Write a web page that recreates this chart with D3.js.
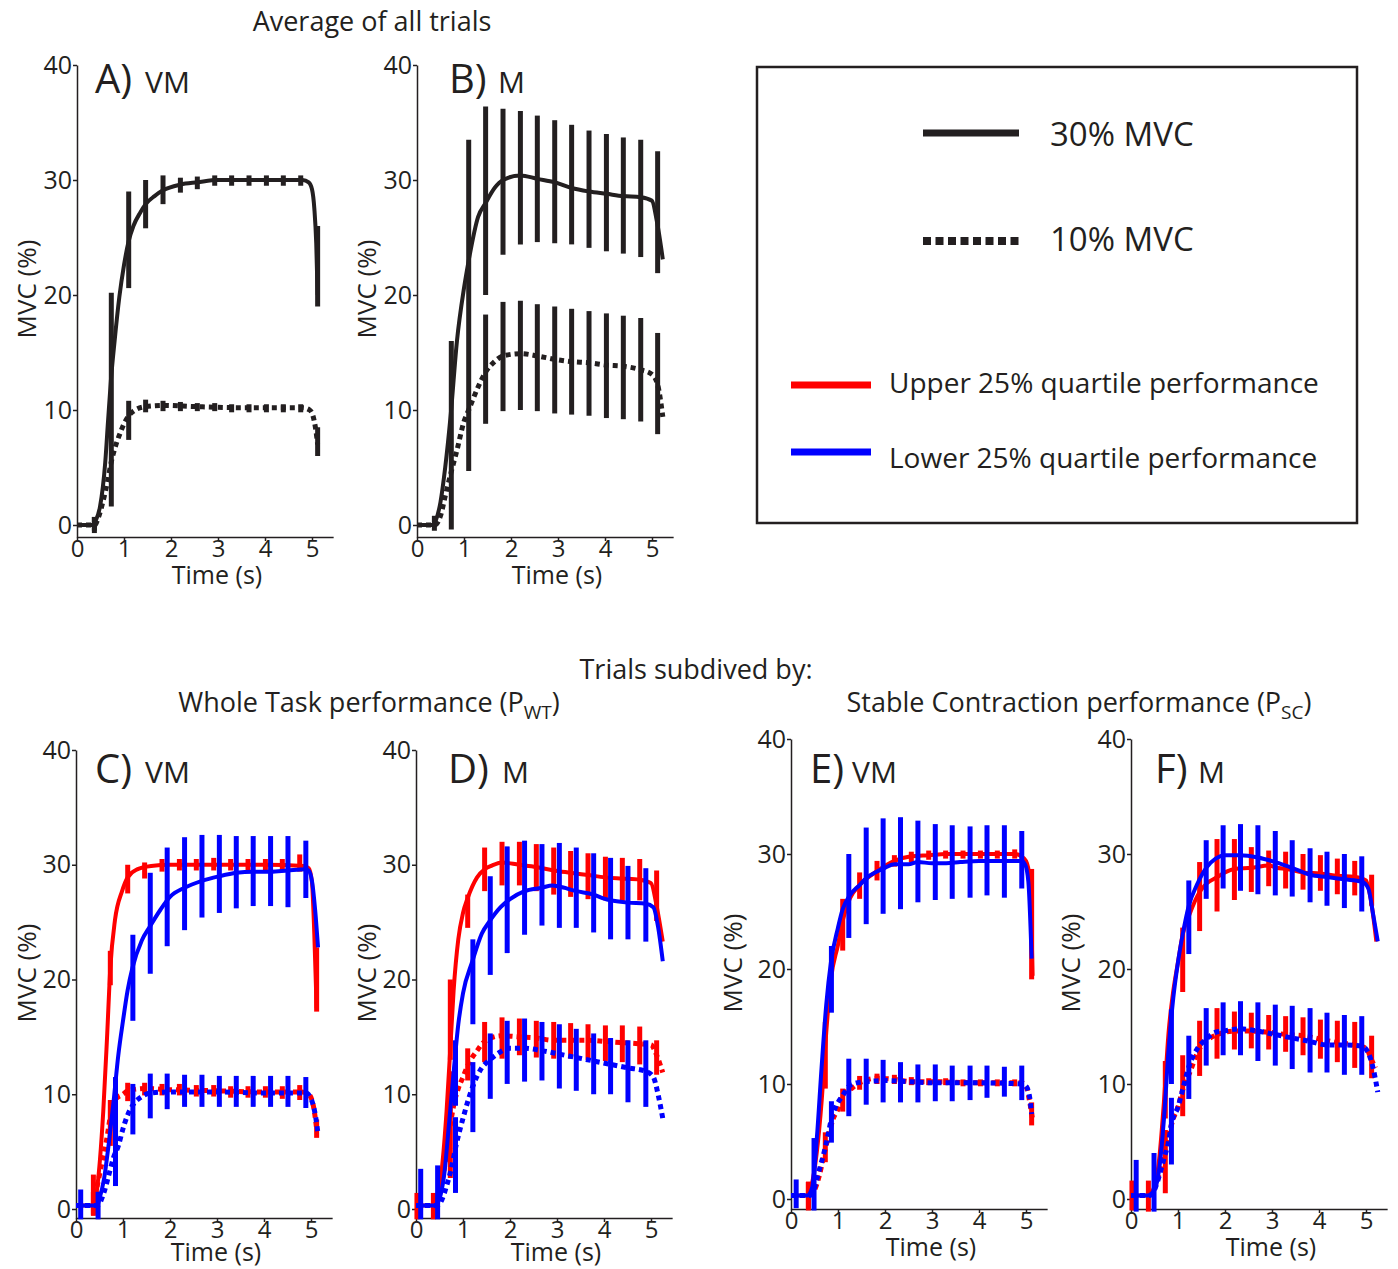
<!DOCTYPE html>
<html>
<head>
<meta charset="utf-8">
<script src="https://cdn.jsdelivr.net/npm/d3@7"></script>
<style>
  html, body { margin: 0; padding: 0; background: #fff; }
  svg { display: block; font-family: "Open Sans", sans-serif; }
</style>
</head>
<body>
<svg id="chart" width="1398" height="1269"></svg>
<script>
// ---- data: mean curves as [time, %MVC], error bars as [time, low, high] ----
const xTicks = [0, 1, 2, 3, 4, 5];
const yTicks = [0, 10, 20, 30, 40];

// A) VM, all trials
const aSolidLine = [[0,0],[0.32,0],[0.4,0.4],[0.49,1.6],[0.6,5.4],[0.66,9],[0.72,12.5],[0.8,16],[0.9,19.8],[1.0,22.6],[1.1,24.7],[1.2,26],[1.35,27.2],[1.46,27.9],[1.65,28.6],[1.83,29.1],[2.2,29.6],[2.56,29.8],[3.0,30],[4.0,30],[4.8,30],[4.93,29.8],[5.0,29.2],[5.05,27.5],[5.09,24.5],[5.12,20]];
const aSolidBars = [[0.37,-0.5,0.7],[0.73,1.6,20.2],[1.1,20.6,29],[1.46,25.8,30],[1.83,27.9,30.4],[2.2,28.9,30.2],[2.56,29.2,30.3],[2.93,29.5,30.4],[3.29,29.5,30.4],[3.66,29.5,30.4],[4.03,29.5,30.4],[4.39,29.5,30.4],[4.76,29.5,30.4],[5.12,19,26]];
const aDotLine = [[0,0],[0.38,0],[0.45,0.6],[0.55,2],[0.65,3.8],[0.73,5.5],[0.8,6.6],[0.9,7.8],[1.0,8.8],[1.1,9.5],[1.2,9.9],[1.46,10.3],[1.83,10.4],[2.5,10.3],[3.5,10.2],[4.5,10.2],[4.8,10.2],[4.95,10],[5.02,9.5],[5.08,8.3],[5.12,7]];
const aDotBars = [[0.37,-0.7,0.7],[1.1,7.4,10.8],[1.46,9.8,10.9],[1.83,9.9,10.8],[2.2,9.9,10.7],[2.56,9.9,10.6],[2.93,9.9,10.6],[3.29,9.8,10.5],[3.66,9.8,10.5],[4.03,9.8,10.5],[4.39,9.8,10.5],[4.76,9.8,10.5],[5.12,6,8.5]];

// B) M, all trials
const bSolidLine = [[0,0],[0.32,0],[0.4,0.4],[0.5,2],[0.6,5],[0.72,9.7],[0.85,16],[1.0,20.6],[1.1,23],[1.3,26.8],[1.46,28],[1.65,29.3],[1.83,30],[2.2,30.4],[2.56,30.1],[2.93,29.8],[3.29,29.3],[3.66,29],[4.03,28.8],[4.39,28.6],[4.76,28.5],[5.0,28.2],[5.1,26.5],[5.23,23.1]];
const bSolidBars = [[0.37,-0.5,0.8],[0.73,-0.4,16],[1.1,4.7,33.5],[1.46,20,36.4],[1.83,23.5,36.2],[2.2,24.4,36],[2.56,24.6,35.6],[2.93,24.5,35.2],[3.29,24.4,34.8],[3.66,24.1,34.3],[4.03,23.8,34],[4.39,23.6,33.7],[4.76,23.3,33.5],[5.12,21.9,32.5]];
const bDotLine = [[0,0],[0.38,0],[0.5,0.8],[0.6,2.5],[0.72,4.5],[0.85,6.5],[1.0,9],[1.1,10],[1.3,12],[1.46,13.3],[1.65,14.2],[1.83,14.7],[2.2,14.9],[2.56,14.7],[2.93,14.4],[3.29,14.2],[3.66,14.1],[4.03,13.9],[4.39,13.8],[4.76,13.5],[5.0,13.1],[5.12,12.2],[5.23,9.4]];
const bDotBars = [[1.46,8.8,18.3],[1.83,9.9,19.4],[2.2,10,19.5],[2.56,9.9,19.2],[2.93,9.7,19],[3.29,9.6,18.8],[3.66,9.5,18.6],[4.03,9.3,18.4],[4.39,9.2,18.2],[4.76,9,18],[5.12,7.9,16.7]];

// C) VM, whole task performance
const cRedSolidLine = [[0,0.3],[0.35,0.3],[0.42,1],[0.51,4.3],[0.58,8.5],[0.66,14.9],[0.73,21],[0.83,25.2],[0.98,27.7],[1.1,28.9],[1.3,29.6],[1.6,29.9],[2.0,30],[3.0,30],[4.0,30],[4.85,29.9],[4.95,29.7],[5.02,28.5],[5.07,24],[5.12,17.5]];
const cRedSolidBars = [[0.37,-0.5,1.5],[0.73,19.5,22.5],[1.1,27.5,30],[1.46,28.8,30.2],[1.83,29.4,30.5],[2.2,29.5,30.5],[2.56,29.5,30.5],[2.93,29.5,30.6],[3.29,29.5,30.5],[3.66,29.5,30.5],[4.03,29.5,30.5],[4.39,29.5,30.5],[4.76,29.4,30.9],[5.12,17.2,22.8]];
const cRedDotLine = [[0,0.3],[0.35,0.3],[0.45,2],[0.55,4],[0.65,6],[0.75,8.5],[0.85,9.6],[1.0,10],[1.1,10.3],[1.46,10.5],[2.0,10.4],[3.0,10.3],[4.0,10.2],[4.8,10.2],[4.95,10],[5.05,9],[5.12,7]];
const cRedDotBars = [[0.37,-0.6,3],[0.73,5.5,9.5],[1.1,9.4,11],[1.46,9.9,11],[1.83,9.9,10.9],[2.2,9.9,10.9],[2.56,9.8,10.8],[2.93,9.8,10.8],[3.29,9.7,10.7],[3.66,9.7,10.7],[4.03,9.7,10.7],[4.39,9.6,10.7],[4.76,9.5,10.8],[5.12,6.2,7.8]];
const cBlueSolidLine = [[0,0.3],[0.45,0.3],[0.5,0.9],[0.6,2.7],[0.7,5.8],[0.8,9.4],[0.9,13.4],[1.0,16.4],[1.1,19.1],[1.2,21],[1.4,23.4],[1.57,24.6],[1.8,26.1],[2.0,27.2],[2.31,28],[2.68,28.6],[3.05,29],[3.41,29.3],[3.77,29.4],[4.14,29.4],[4.5,29.5],[4.89,29.6],[4.95,29.5],[5.02,28.6],[5.1,25.5],[5.15,22.8]];
const cBlueSolidBars = [[0.1,-0.9,1.7],[0.47,-0.9,1.5],[0.84,4,11.5],[1.21,16.4,23.9],[1.58,20.5,29.3],[1.94,22.9,31.5],[2.31,24.3,32.4],[2.68,25.4,32.6],[3.05,25.8,32.6],[3.41,26.2,32.5],[3.77,26.4,32.5],[4.14,26.4,32.5],[4.51,26.3,32.5],[4.89,27.1,32.1]];
const cBlueDotLine = [[0,0.3],[0.45,0.3],[0.6,1.5],[0.7,3],[0.8,4.5],[0.9,5.5],[1.0,7],[1.1,8.2],[1.2,9],[1.4,9.8],[1.57,10.1],[2.0,10.2],[3.0,10.2],[4.0,10.1],[4.89,10.1],[5.0,9.6],[5.1,8],[5.15,6.5]];
const cBlueDotBars = [[0.84,2,7],[1.21,6.5,10.9],[1.58,7.9,11.8],[1.94,8.7,11.8],[2.31,8.9,11.7],[2.68,8.9,11.7],[3.05,8.9,11.6],[3.41,8.9,11.6],[3.77,8.9,11.6],[4.14,8.9,11.6],[4.51,8.9,11.6],[4.89,8.8,11.5]];

// D) M, whole task performance
const dRedSolidLine = [[0,0.3],[0.35,0.3],[0.45,0.9],[0.55,3.5],[0.65,8.5],[0.73,14],[0.8,19],[0.9,23.5],[1.0,25.8],[1.1,27.1],[1.3,28.9],[1.46,29.6],[1.6,29.9],[1.82,30.2],[2.19,30],[2.56,29.8],[2.93,29.5],[3.29,29.3],[3.66,29.1],[4.03,28.9],[4.39,28.8],[4.76,28.7],[5.0,28.4],[5.12,26.4],[5.25,23.3]];
const dRedSolidBars = [[0.02,-0.9,1.4],[0.37,-0.9,1.4],[0.73,13,20],[1.1,24.5,27.4],[1.46,27.7,31.5],[1.83,28.2,32],[2.2,28.2,32],[2.56,27.7,31.8],[2.93,27.4,31.5],[3.29,27.2,31.2],[3.66,27,31],[4.03,26.9,30.7],[4.39,26.7,30.6],[4.76,26.9,30.5],[5.12,25.1,29.5]];
const dRedDotLine = [[0,0.3],[0.35,0.3],[0.5,1.5],[0.6,3.5],[0.7,6.5],[0.8,9],[0.9,10.5],[1.0,11.5],[1.1,12.5],[1.3,13.8],[1.46,14.6],[1.82,15.1],[2.19,15],[2.56,14.9],[2.93,14.7],[3.29,14.7],[3.66,14.7],[4.03,14.6],[4.39,14.5],[4.76,14.4],[5.0,14.3],[5.12,13.4],[5.25,11.9]];
const dRedDotBars = [[0.73,2.7,12],[1.1,11.2,14],[1.46,12.8,16.3],[1.83,13.1,16.7],[2.2,13.4,16.6],[2.56,13.2,16.4],[2.93,13.1,16.3],[3.29,13.1,16.2],[3.66,13,16.1],[4.03,12.9,16],[4.39,12.8,16],[4.76,12.6,15.9],[5.12,11.7,14.7]];
const dBlueSolidLine = [[0,0.3],[0.4,0.3],[0.5,0.9],[0.6,3],[0.7,7.3],[0.8,11.9],[0.9,16.1],[1.0,18.8],[1.2,21.6],[1.4,24],[1.57,25.1],[1.8,26.3],[2.0,27],[2.31,27.7],[2.68,28],[2.9,28.2],[3.05,28.1],[3.41,27.7],[3.78,27.4],[4.0,27.05],[4.14,26.9],[4.51,26.7],[4.89,26.6],[5.05,26.3],[5.15,24.6],[5.25,21.6]];
const dBlueSolidBars = [[0.1,-0.9,3.5],[0.46,-0.9,3.8],[0.84,9,14.7],[1.21,16.1,23.5],[1.58,20.4,29],[1.94,22.3,31.6],[2.31,23.9,32.1],[2.68,24.7,31.8],[3.05,24.5,31.9],[3.41,24.5,31.5],[3.78,24.1,31],[4.14,23.5,30.6],[4.51,23.5,29.9],[4.89,23.3,29.7]];
const dBlueDotLine = [[0,0.3],[0.45,0.3],[0.55,0.8],[0.65,2],[0.75,3.5],[0.85,5.5],[1.0,7.9],[1.2,10.6],[1.4,12.3],[1.57,13],[1.8,13.7],[2.0,14],[2.31,14],[2.68,13.8],[3.05,13.5],[3.41,13.2],[3.78,12.9],[4.14,12.6],[4.51,12.3],[4.89,12],[5.05,11.5],[5.15,10],[5.25,7.9]];
const dBlueDotBars = [[0.84,1.4,8],[1.21,6.7,12.8],[1.58,9.6,15.3],[1.94,10.9,16.4],[2.31,11.1,16.6],[2.68,11.2,16.3],[3.05,10.5,16.1],[3.41,10.3,15.7],[3.78,10,15.3],[4.14,10,14.9],[4.51,9.3,14.7],[4.89,8.9,14.7]];

// E) VM, stable contraction performance
const eRedSolidLine = [[0,0.3],[0.35,0.3],[0.45,1.4],[0.55,4.1],[0.65,8.4],[0.75,14.5],[0.85,19.1],[1.0,22.1],[1.1,24.2],[1.25,26.1],[1.46,27.3],[1.83,28.5],[2.2,29.4],[2.56,29.8],[2.93,29.9],[3.3,30],[4.0,30],[4.76,30],[4.9,29.8],[5.0,29.4],[5.08,27.9],[5.14,19.4]];
const eRedSolidBars = [[0.37,-1,1.5],[0.73,9.6,15.4],[1.1,21.6,26.1],[1.46,26.1,28.4],[1.83,27.7,29.4],[2.2,28.9,29.9],[2.56,29.3,30.2],[2.93,29.5,30.3],[3.29,29.6,30.3],[3.66,29.6,30.3],[4.03,29.6,30.3],[4.39,29.6,30.3],[4.76,29.6,30.4],[5.12,19.1,28.7]];
const eRedDotLine = [[0,0.3],[0.35,0.3],[0.5,0.8],[0.6,2],[0.7,3.8],[0.8,5.5],[0.9,7],[1.0,7.8],[1.1,9.1],[1.25,9.5],[1.46,10.1],[1.84,10.5],[2.2,10.4],[2.56,10.2],[3.0,10.2],[4.0,10.1],[4.9,10.1],[5.0,9.8],[5.08,8.4],[5.14,6.9]];
const eRedDotBars = [[0.37,-0.8,1.5],[0.73,3.2,5.8],[1.1,7.6,9.6],[1.46,9.5,10.7],[1.83,10,10.9],[2.2,10,10.8],[2.56,9.9,10.6],[2.93,9.9,10.5],[3.29,9.9,10.5],[3.66,9.8,10.4],[4.03,9.8,10.4],[4.39,9.8,10.4],[4.76,9.8,10.4],[5.12,6.4,8.4]];
const eBlueSolidLine = [[0,0.3],[0.35,0.3],[0.45,1],[0.55,5.3],[0.65,11.4],[0.75,16.9],[0.85,20.6],[1.0,23.6],[1.1,25.2],[1.25,26.4],[1.46,27.3],[1.6,27.9],[1.84,28.5],[2.0,28.8],[2.2,29.1],[2.5,29.1],[2.7,29.3],[3.0,29.2],[3.3,29.2],[3.6,29.3],[4.0,29.4],[4.5,29.4],[4.9,29.4],[4.98,29.1],[5.05,27.6],[5.12,20.9]];
const eBlueSolidBars = [[0.11,-0.8,1.7],[0.49,-1,5.3],[0.86,16.2,22],[1.23,22.7,30],[1.6,23.9,32.3],[1.96,24.8,33.1],[2.33,25.2,33.2],[2.7,25.8,32.9],[3.07,26,32.6],[3.43,26.1,32.5],[3.81,26.2,32.4],[4.17,26.4,32.5],[4.54,26.2,32.5],[4.91,27,32]];
const eBlueDotLine = [[0,0.3],[0.4,0.3],[0.5,1],[0.6,2.5],[0.7,4],[0.8,5.8],[0.86,7],[0.95,8],[1.1,9],[1.23,9.8],[1.4,10.1],[1.6,10.2],[2.0,10.3],[2.5,10.2],[3.0,10.1],[4.0,10.1],[4.91,10],[5.0,9.8],[5.08,8.8],[5.12,7.4]];
const eBlueDotBars = [[0.86,4.9,8.5],[1.23,7.2,12.2],[1.6,8.2,12.2],[1.96,8.4,12.1],[2.33,8.4,11.9],[2.7,8.4,11.7],[3.07,8.5,11.7],[3.43,8.5,11.6],[3.81,8.6,11.6],[4.17,8.8,11.6],[4.54,8.9,11.5],[4.91,8.6,11.6]];

// F) M, stable contraction performance
const fRedSolidLine = [[0,0.3],[0.35,0.3],[0.5,1.1],[0.6,3.5],[0.7,8.4],[0.8,14.5],[0.9,18.1],[1.0,20.6],[1.1,23],[1.25,24.8],[1.46,26.7],[1.6,27.4],[1.84,28],[2.0,28.4],[2.2,28.7],[2.56,28.8],[2.93,29],[3.1,28.8],[3.3,28.7],[3.66,28.4],[4.03,28.3],[4.4,28.1],[4.76,28],[5.0,27.7],[5.1,26.1],[5.22,22.4]];
const fRedSolidBars = [[0.02,-1,1.6],[0.37,-1.1,1.6],[0.73,7,12],[1.1,18,23.6],[1.46,23.3,29.3],[1.83,25,31.3],[2.2,26,31.3],[2.56,26.7,30.6],[2.93,27.2,30.3],[3.29,27,30.2],[3.66,26.9,30],[4.03,26.8,29.9],[4.39,26.5,29.6],[4.76,26.4,29.4],[5.12,25.5,28.2]];
const fRedDotLine = [[0,0.3],[0.35,0.3],[0.5,1],[0.6,2.2],[0.7,4],[0.8,5.5],[0.9,7],[1.0,8],[1.1,9.5],[1.25,11],[1.46,13.1],[1.84,14.3],[2.2,14.6],[2.56,14.6],[2.93,14.5],[3.3,14.3],[3.66,14.2],[4.03,13.9],[4.4,13.6],[4.76,13.4],[5.0,13.1],[5.13,12],[5.2,11.4]];
const fRedDotBars = [[0.73,0.5,6],[1.1,7.2,12.5],[1.46,10.7,15.5],[1.83,12.2,16.6],[2.2,13,16.3],[2.56,13.1,16.2],[2.93,13,16],[3.29,12.8,15.9],[3.66,12.5,15.8],[4.03,12.2,15.6],[4.39,11.9,15.5],[4.76,11.4,15.4],[5.12,10.5,14.2]];
const fBlueSolidLine = [[0,0.3],[0.35,0.3],[0.5,0.8],[0.6,2.6],[0.7,6.9],[0.8,13],[0.9,17.5],[1.0,20.6],[1.1,23],[1.23,25.5],[1.4,27.3],[1.6,28.8],[1.8,29.6],[2.0,29.9],[2.33,29.9],[2.7,29.7],[3.07,29.3],[3.43,28.8],[3.81,28.2],[4.17,28],[4.54,27.8],[4.91,27.6],[5.05,27],[5.15,24.8],[5.25,22.4]];
const fBlueSolidBars = [[0.11,-1.1,3.4],[0.49,-1.1,4],[0.86,10,16.5],[1.23,21.3,27.7],[1.6,26.1,31.2],[1.96,27,32.5],[2.33,26.8,32.6],[2.7,26.5,32.5],[3.07,26.4,32],[3.43,26.3,31.2],[3.81,25.8,30.5],[4.17,25.5,30.2],[4.54,25.3,30],[4.91,25,29.8]];
const fBlueDotLine = [[0,0.3],[0.4,0.3],[0.5,0.8],[0.6,2],[0.7,3.5],[0.8,5],[0.86,6.5],[1.0,8],[1.1,9.5],[1.23,11.5],[1.4,13],[1.6,13.9],[1.8,14.5],[1.96,14.6],[2.33,14.8],[2.7,14.6],[3.07,14.3],[3.43,14],[3.81,13.7],[4.17,13.4],[4.54,13.4],[4.91,13.3],[5.05,12.7],[5.15,11.4],[5.25,9.3]];
const fBlueDotBars = [[0.86,3,8.8],[1.23,8.7,14.2],[1.6,11.6,16.6],[1.96,12.5,17.1],[2.33,12.5,17.2],[2.7,12,17.1],[3.07,11.6,16.9],[3.43,11.3,16.8],[3.81,11,16.6],[4.17,11,16.2],[4.54,10.8,16],[4.91,10.8,15.9]];

// ---- drawing ----
const ink = '#231f20';
const black = '#231f20', red = '#ff0000', blue = '#0000ff';
const svg = d3.select('#chart');

const mk = (line, bars, color, dotted) => ({ line, bars, color, dotted });

const panels = [
  { letter: 'A)', muscle: 'VM', x0: 77, y0: 525, yTop: 65, axisY: 537, letterDx: 18, muscleDx: 68, base: 93, mvcDx: -51, timeDy: 47,
    series: [mk(aSolidLine, aSolidBars, black, false), mk(aDotLine, aDotBars, black, true)] },
  { letter: 'B)', muscle: 'M', x0: 417, y0: 525, yTop: 65, axisY: 537, letterDx: 32, muscleDx: 81, base: 93, mvcDx: -51, timeDy: 47,
    series: [mk(bSolidLine, bSolidBars, black, false), mk(bDotLine, bDotBars, black, true)] },
  { letter: 'C)', muscle: 'VM', x0: 76, y0: 1209, yTop: 750, axisY: 1218, letterDx: 19, muscleDx: 69, base: 783, mvcDx: -50, timeDy: 43,
    series: [mk(cRedSolidLine, cRedSolidBars, red, false), mk(cRedDotLine, cRedDotBars, red, true),
             mk(cBlueSolidLine, cBlueSolidBars, blue, false), mk(cBlueDotLine, cBlueDotBars, blue, true)] },
  { letter: 'D)', muscle: 'M', x0: 416, y0: 1209, yTop: 750, axisY: 1218, letterDx: 32, muscleDx: 86, base: 783, mvcDx: -50, timeDy: 43,
    series: [mk(dRedSolidLine, dRedSolidBars, red, false), mk(dRedDotLine, dRedDotBars, red, true),
             mk(dBlueSolidLine, dBlueSolidBars, blue, false), mk(dBlueDotLine, dBlueDotBars, blue, true)] },
  { letter: 'E)', muscle: 'VM', x0: 791, y0: 1199, yTop: 739, axisY: 1209, letterDx: 19, muscleDx: 61, base: 783, mvcDx: -59, timeDy: 47,
    series: [mk(eRedSolidLine, eRedSolidBars, red, false), mk(eRedDotLine, eRedDotBars, red, true),
             mk(eBlueSolidLine, eBlueSolidBars, blue, false), mk(eBlueDotLine, eBlueDotBars, blue, true)] },
  { letter: 'F)', muscle: 'M', x0: 1131, y0: 1199, yTop: 739, axisY: 1209, letterDx: 24, muscleDx: 67, base: 783, mvcDx: -61, timeDy: 47,
    series: [mk(fRedSolidLine, fRedSolidBars, red, false), mk(fRedDotLine, fRedDotBars, red, true),
             mk(fBlueSolidLine, fBlueSolidBars, blue, false), mk(fBlueDotLine, fBlueDotBars, blue, true)] }
];

const pxPerSec = 47;
const xMax = 5.45;

panels.forEach(p => {
  const g = svg.append('g');

  const x = d3.scaleLinear().domain([0, xMax]).range([p.x0, p.x0 + xMax * pxPerSec]);
  const y = d3.scaleLinear().domain([0, 40]).range([p.y0, p.yTop]);
  const yMin = y.invert(p.axisY);
  y.domain([yMin, 40]).range([p.axisY, p.yTop]);

  const xAxis = g.append('g')
    .attr('transform', `translate(0,${p.axisY})`)
    .call(d3.axisBottom(x).tickValues(xTicks).tickFormat(d3.format('d'))
      .tickSize(4).tickSizeOuter(0).tickPadding(0));
  const yAxis = g.append('g')
    .attr('transform', `translate(${p.x0},0)`)
    .call(d3.axisLeft(y).tickValues(yTicks).tickFormat(d3.format('d'))
      .tickSize(4).tickSizeOuter(0).tickPadding(1));

  [xAxis, yAxis].forEach(ax => {
    ax.attr('font-family', null).attr('font-size', null);
    ax.select('.domain').attr('stroke', ink).attr('stroke-width', 1.5);
    ax.selectAll('.tick line').attr('stroke', ink).attr('stroke-width', 1.5);
    ax.selectAll('.tick text').attr('fill', ink).style('font-size', '25px');
  });
  xAxis.selectAll('.tick text').attr('dy', '0.68em').style('font-size', '24px');

  const line = d3.line()
    .x(d => x(d[0]))
    .y(d => y(d[1]))
    .curve(d3.curveMonotoneX);

  p.series.forEach(s => {
    g.append('path')
      .datum(s.line)
      .attr('d', line)
      .attr('fill', 'none')
      .attr('stroke', s.color)
      .attr('stroke-width', s.dotted ? 5 : 4)
      .attr('stroke-dasharray', s.dotted ? '5,4' : null);

    g.append('g').selectAll('line')
      .data(s.bars)
      .join('line')
      .attr('x1', d => x(d[0]))
      .attr('x2', d => x(d[0]))
      .attr('y1', d => y(d[1]))
      .attr('y2', d => y(d[2]))
      .attr('stroke', s.color)
      .attr('stroke-width', 5);
  });

  g.append('text')
    .attr('x', p.x0 + p.letterDx)
    .attr('y', p.base)
    .attr('fill', ink)
    .style('font-size', '40px')
    .text(p.letter);
  g.append('text')
    .attr('x', p.x0 + p.muscleDx)
    .attr('y', p.base)
    .attr('fill', ink)
    .style('font-size', '30px')
    .text(p.muscle);

  g.append('text')
    .attr('transform', `translate(${p.x0 + p.mvcDx},${p.y0 - 236}) rotate(-90)`)
    .attr('text-anchor', 'middle')
    .attr('dominant-baseline', 'central')
    .attr('fill', ink)
    .style('font-size', '26px')
    .text('MVC (%)');

  g.append('text')
    .attr('x', p.x0 + 140)
    .attr('y', p.axisY + p.timeDy)
    .attr('text-anchor', 'middle')
    .attr('fill', ink)
    .style('font-size', '25px')
    .text('Time (s)');
});

// titles
const title = (x, y, txt, sub) => {
  const t = svg.append('text')
    .attr('x', x).attr('y', y)
    .attr('text-anchor', 'middle')
    .attr('fill', ink)
    .style('font-size', '27px');
  t.append('tspan').text(txt);
  if (sub) {
    t.append('tspan').attr('dy', 7).style('font-size', '19px').text(sub);
    t.append('tspan').attr('dy', -7).text(')');
  }
};
title(372, 31, 'Average of all trials');
title(696, 679, 'Trials subdived by:');
title(369, 712, 'Whole Task performance (P', 'WT');
title(1079, 712, 'Stable Contraction performance (P', 'SC');

// legend
const legendItems = [
  { label: '30% MVC', color: black, dotted: false, x1: 923, x2: 1019, y: 133, tx: 1050, ty: 146, size: 33 },
  { label: '10% MVC', color: black, dotted: true, x1: 923, x2: 1019, y: 241, tx: 1050, ty: 251, size: 33 },
  { label: 'Upper 25% quartile performance', color: red, dotted: false, x1: 791, x2: 871, y: 385, tx: 889, ty: 393, size: 28 },
  { label: 'Lower 25% quartile performance', color: blue, dotted: false, x1: 791, x2: 871, y: 452, tx: 889, ty: 468, size: 28 }
];
const lg = svg.append('g');
lg.append('rect')
  .attr('x', 757).attr('y', 67).attr('width', 600).attr('height', 456)
  .attr('fill', 'none').attr('stroke', ink).attr('stroke-width', 2.5);
legendItems.forEach(d => {
  lg.append('line')
    .attr('x1', d.x1).attr('x2', d.x2).attr('y1', d.y).attr('y2', d.y)
    .attr('stroke', d.color).attr('stroke-width', d.dotted ? 8 : 7)
    .attr('stroke-dasharray', d.dotted ? '8,4.5' : null);
  lg.append('text')
    .attr('x', d.tx).attr('y', d.ty)
    .attr('fill', ink)
    .style('font-size', d.size + 'px')
    .text(d.label);
});
</script>
</body>
</html>
